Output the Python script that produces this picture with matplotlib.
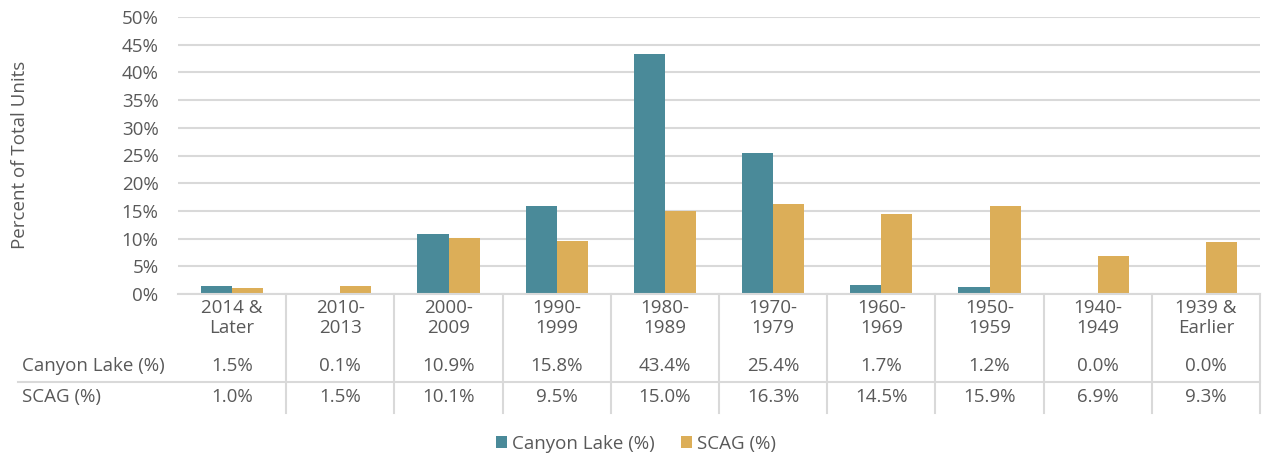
import matplotlib
matplotlib.use("Agg")
import matplotlib.pyplot as plt
import matplotlib.transforms as mtransforms
from matplotlib.patches import Patch
import numpy as np

categories = ["2014 &\nLater", "2010-\n2013", "2000-\n2009", "1990-\n1999", "1980-\n1989",
              "1970-\n1979", "1960-\n1969", "1950-\n1959", "1940-\n1949", "1939 &\nEarlier"]
canyon_lake = [1.5, 0.1, 10.9, 15.8, 43.4, 25.4, 1.7, 1.2, 0.0, 0.0]
scag = [1.0, 1.5, 10.1, 9.5, 15.0, 16.3, 14.5, 15.9, 6.9, 9.3]
series_names = ["Canyon Lake (%)", "SCAG (%)"]
yticks = [0, 5, 10, 15, 20, 25, 30, 35, 40, 45, 50]

TEAL = "#4A8A99"
GOLD = "#DCAE58"
TXT = "#595959"
GRID = "#D9D9D9"
FS = 13.5

plt.rcParams['font.family'] = ['Open Sans', 'DejaVu Sans']

W, H = 1262, 457
fig = plt.figure(figsize=(W / 100, H / 100), dpi=100)
left, right, top, bottom = 178, 1260, 17, 294
ax = fig.add_axes([left / W, 1 - bottom / H, (right - left) / W, (bottom - top) / H])

n = len(categories)
x = np.arange(n)
bw = 0.287
ax.bar(x - bw / 2, canyon_lake, bw, color=TEAL, zorder=3, label=series_names[0])
ax.bar(x + bw / 2, scag, bw, color=GOLD, zorder=3, label=series_names[1])

ax.set_xlim(-0.5, n - 0.5)
ax.set_ylim(0, 50)
ax.set_yticks(yticks)
ax.set_yticklabels([f"{v}%" for v in yticks], color=TXT, fontsize=FS)
ax.tick_params(axis='y', length=0, pad=14)
ax.set_xticks([])
ax.yaxis.grid(True, color=GRID, linewidth=1.5, zorder=0)
for s in ["top", "right", "left"]:
    ax.spines[s].set_visible(False)
ax.spines["bottom"].set_color(GRID)
ax.spines["bottom"].set_linewidth(1.5)
ax.spines["bottom"].set_zorder(4)

fig.text(20 / W, 1 - 155 / H, "Percent of Total Units", rotation=90, color=TXT,
         fontsize=FS, ha='center', va='center')

def fy(py):
    return 1 - py / H

trans = mtransforms.blended_transform_factory(ax.transData, fig.transFigure)
for i in range(n):
    ax.text(x[i], fy(318), categories[i], transform=trans, ha='center', va='center',
            color=TXT, fontsize=FS, linespacing=1.1)
    ax.text(x[i], fy(366), f"{canyon_lake[i]:.1f}%", transform=trans, ha='center',
            va='center', color=TXT, fontsize=FS)
    ax.text(x[i], fy(397), f"{scag[i]:.1f}%", transform=trans, ha='center',
            va='center', color=TXT, fontsize=FS)
for i in range(1, n + 1):
    ax.plot([i - 0.5, i - 0.5], [fy(294), fy(413)], transform=trans, color=GRID,
            linewidth=1.5, clip_on=False, zorder=1)

fig.add_artist(plt.Line2D([18 / W, right / W], [fy(382), fy(382)], color=GRID,
                          linewidth=1.5, transform=fig.transFigure))
fig.text(22 / W, fy(366), series_names[0], ha='left', va='center', color=TXT, fontsize=FS)
fig.text(22 / W, fy(397), series_names[1], ha='left', va='center', color=TXT, fontsize=FS)

handles = [Patch(facecolor=TEAL, label=series_names[0]), Patch(facecolor=GOLD, label=series_names[1])]
leg = fig.legend(handles=handles, loc='center', bbox_to_anchor=(636 / W, fy(444)), ncol=2,
                 frameon=False, fontsize=FS, handlelength=0.6, handleheight=0.6,
                 handletextpad=0.25, columnspacing=1.4)
for t in leg.get_texts():
    t.set_color(TXT)

fig.savefig("out.png", dpi=100)
